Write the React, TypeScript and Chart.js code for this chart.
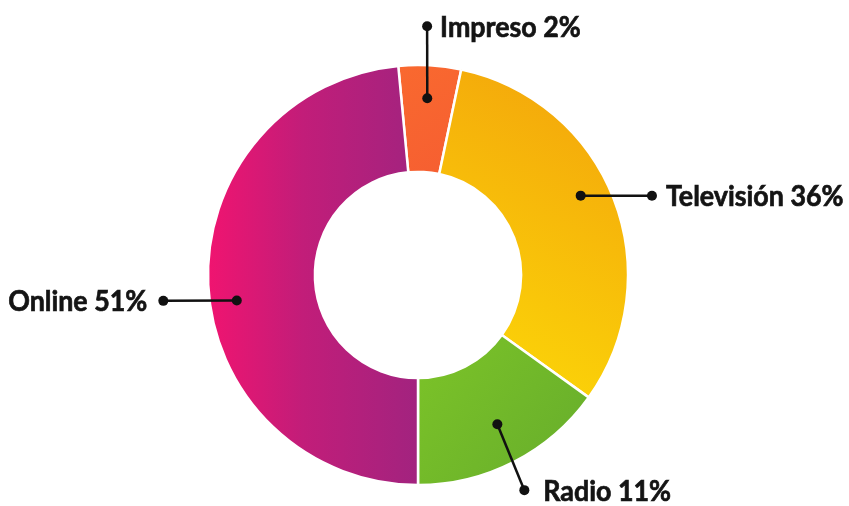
import React, { useEffect, useRef } from "react";
import { Chart, registerables } from "chart.js";

Chart.register(...registerables);

// ---- data ----
const categories = ["Impreso", "Televisión", "Radio", "Online"];
const shareLabels = ["2%", "36%", "11%", "51%"];
// slice sizes as drawn in the picture (share of the ring)
const sliceValues = [4.8, 31.6, 15.1, 48.5];

// ---- label layout (polar, degrees clockwise from top, px from centre) ----
const anchorAngles = [3, 64, 152, 262];
const anchorRadii = [177, 181, 169, 183];
const elbowAngles = [2.1, 71.3, 153.7, 264.2];
const elbowRadii = [249, 247, 240, 256];
const labelSides = ["right", "right", "right", "left"];
const labelGaps = [13, 14, 19, 16];

const W = 849;
const H = 506;
const OUTER_R = 210;
const INNER_R = 102.5;

function polar(cx: number, cy: number, deg: number, r: number) {
  const a = (deg * Math.PI) / 180;
  return { x: cx + r * Math.sin(a), y: cy - r * Math.cos(a) };
}

function makeFill(ctx: any, index: number) {
  const chart = ctx.chart;
  const area = chart.chartArea;
  if (!area) return "#ccc";
  const c = chart.ctx as CanvasRenderingContext2D;
  const cx = (area.left + area.right) / 2;
  const cy = (area.top + area.bottom) / 2;
  const R = OUTER_R;
  let g: CanvasGradient;
  if (index === 0) {
    g = c.createLinearGradient(cx - 20, cy - R, cx + 40, cy - R + 100);
    g.addColorStop(0, "#F9692F");
    g.addColorStop(1, "#F65F31");
  } else if (index === 1) {
    g = c.createLinearGradient(cx + R * 1.0, cy - R * 0.7, cx + R * 0.3, cy + R * 0.6);
    g.addColorStop(0, "#F4A90B");
    g.addColorStop(1, "#FCD808");
  } else if (index === 2) {
    g = c.createLinearGradient(cx, cy, cx + R * 0.8, cy + R * 0.6);
    g.addColorStop(0, "#80C727");
    g.addColorStop(1, "#6BB22B");
  } else {
    g = c.createLinearGradient(cx - R, 0, cx, 0);
    g.addColorStop(0, "#F01470");
    g.addColorStop(0.45, "#C21D79");
    g.addColorStop(1, "#A2237F");
  }
  return g;
}

const leaderPlugin = {
  id: "leaderLabels",
  afterDraw(chart: any) {
    const meta = chart.getDatasetMeta(0);
    if (!meta || !meta.data.length) return;
    const cx = meta.data[0].x;
    const cy = meta.data[0].y;
    const ctx = chart.ctx as CanvasRenderingContext2D;
    ctx.save();
    categories.forEach((cat, i) => {
      const p1 = polar(cx, cy, anchorAngles[i], anchorRadii[i]);
      const p2 = polar(cx, cy, elbowAngles[i], elbowRadii[i]);
      ctx.strokeStyle = "#111";
      ctx.lineWidth = 2.5;
      ctx.beginPath();
      ctx.moveTo(p1.x, p1.y);
      ctx.lineTo(p2.x, p2.y);
      ctx.stroke();
      ctx.fillStyle = "#111";
      [p1, p2].forEach((p) => {
        ctx.beginPath();
        ctx.arc(p.x, p.y, 5, 0, Math.PI * 2);
        ctx.fill();
      });
      const text = `${cat} ${shareLabels[i]}`;
      ctx.font = "bold 29px Lato";
      ctx.textBaseline = "alphabetic";
      const right = labelSides[i] === "right";
      ctx.textAlign = right ? "left" : "right";
      const tx = right ? p2.x + labelGaps[i] : p2.x - labelGaps[i];
      ctx.save();
      ctx.translate(tx, p2.y + 10.5);
      ctx.scale(0.925, 1);
      ctx.fillStyle = "#141414";
      ctx.strokeStyle = "#141414";
      ctx.lineWidth = 0.7;
      ctx.fillText(text, 0, 0);
      ctx.strokeText(text, 0, 0);
      ctx.restore();
    });
    ctx.restore();
  },
};

export default function App() {
  const ref = useRef<HTMLCanvasElement | null>(null);
  useEffect(() => {
    document.body.style.margin = "0";
    const canvas = ref.current;
    if (!canvas) return;
    const chart = new Chart(canvas, {
      type: "doughnut",
      data: {
        labels: categories,
        datasets: [
          {
            data: sliceValues,
            backgroundColor: (ctx: any) => makeFill(ctx, ctx.dataIndex),
            borderColor: "#ffffff",
            borderWidth: 2.5,
            hoverOffset: 0,
          },
        ],
      },
      options: {
        responsive: false,
        animation: false,
        rotation: -5.4,
        radius: OUTER_R,
        cutout: INNER_R,
        layout: { padding: { left: 0, right: W - 2 * 418, top: 275 - OUTER_R, bottom: H - 275 - OUTER_R } },
        plugins: {
          legend: { display: false },
          tooltip: { enabled: false },
        },
      } as any,
      plugins: [leaderPlugin],
    });
    return () => chart.destroy();
  }, []);
  return (
    <div style={{ width: W, height: H, background: "#fff" }}>
      <canvas ref={ref} width={W} height={H} style={{ width: W, height: H, display: "block" }} />
    </div>
  );
}
